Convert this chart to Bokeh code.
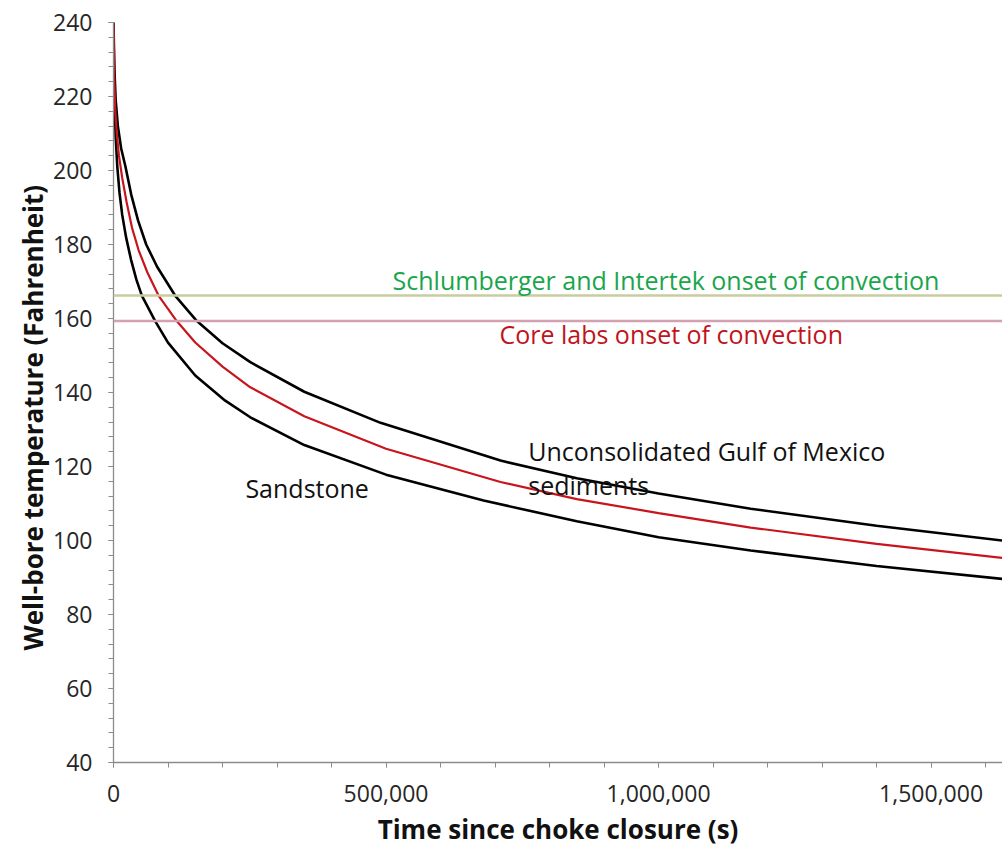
from bokeh.plotting import figure
from bokeh.models import (Range1d, SingleIntervalTicker, NumeralTickFormatter,
                          Label, Span, Title)
from bokeh.embed import file_html
from bokeh.resources import INLINE

# Time since choke closure (s) and well-bore temperature (F) for each formation
t_sandstone = [0, 800, 2000, 4000, 7000, 11000, 16000, 23000, 32000, 42000,
               52000, 76500, 100000, 150000, 205000, 251000, 350000, 500000,
               679000, 850000, 1000000, 1169000, 1400000, 1631000]
T_sandstone = [240, 228, 218, 209, 201, 194, 188, 182, 176, 170.5,
               166.2, 159.3, 153.5, 144.6, 137.8, 133.3, 125.8, 117.8,
               110.8, 105.2, 100.9, 97.3, 93.1, 89.6]

t_average = [0, 1200, 3000, 6000, 10000, 16000, 24000, 34000, 46000, 62000,
             82600, 116000, 150000, 200000, 251000, 350000, 500000, 710000,
             850000, 1000000, 1169000, 1400000, 1631000]
T_average = [240, 226, 217, 210, 204, 198, 191.5, 184.5, 178.5, 172.5,
             166.2, 159.3, 153.5, 147, 141.4, 133.6, 124.8, 115.8,
             111.2, 107.4, 103.5, 99.1, 95.3]

t_gulf = [0, 1500, 4000, 8000, 14000, 22000, 32500, 45000, 60000, 80000,
          113000, 153000, 200000, 251000, 350000, 490000, 710000, 850000,
          1000000, 1169000, 1400000, 1631000]
T_gulf = [240, 228, 219, 212, 206, 201, 193.5, 186.5, 180, 174,
          166.2, 159.3, 153.3, 148.2, 140.2, 131.8, 121.6, 116.8,
          112.7, 108.6, 104, 100]

# Onset-of-convection thresholds (F)
onset_schlumberger = 166.2
onset_corelabs = 159.3

FONT = "Open Sans"

p = figure(width=1002, height=851, output_backend="svg", toolbar_location=None,
           x_range=Range1d(0, 1631000), y_range=Range1d(40, 240),
           min_border_left=113, min_border_right=0, min_border_top=22,
           min_border_bottom=89)
p.outline_line_color = None
p.xgrid.visible = False
p.ygrid.visible = False
p.background_fill_color = "white"
p.border_fill_color = "white"

p.xaxis.ticker = SingleIntervalTicker(interval=500000, num_minor_ticks=5)
p.yaxis.ticker = SingleIntervalTicker(interval=20, num_minor_ticks=5)
p.xaxis.formatter = NumeralTickFormatter(format="0,0")

for ax in (p.xaxis, p.yaxis):
    ax.axis_line_color = "#8c8c8c"
    ax.axis_line_width = 1.3
    ax.major_tick_line_color = "#8c8c8c"
    ax.minor_tick_line_color = "#8c8c8c"
    ax.major_tick_in = 0
    ax.major_tick_out = 5
    ax.minor_tick_in = 0
    ax.minor_tick_out = 5
    ax.major_label_text_font = FONT
    ax.major_label_text_font_size = "23px"
    ax.major_label_text_color = "#262626"
    ax.axis_label_text_font = FONT
    ax.axis_label_text_font_style = "bold"
    ax.axis_label_text_font_size = "26px"
    ax.axis_label_text_color = "#111111"

p.xaxis.axis_label = "Time since choke closure (s)"
p.xaxis.major_label_standoff = 17
p.yaxis.major_label_standoff = 16
p.xaxis.axis_label_standoff = 6

# Vertical axis title, starting a fixed distance above the x axis
p.add_layout(Title(text="Well-bore temperature (Fahrenheit)", align="left",
                   offset=112, text_font=FONT, text_font_style="bold",
                   text_font_size="26px", text_color="#111111",
                   standoff=0), "left")

p.add_layout(Span(location=onset_schlumberger, dimension="width",
                  line_color="#c9cc9e", line_width=2.5))
p.add_layout(Span(location=onset_corelabs, dimension="width",
                  line_color="#d3a1b1", line_width=2.5))

p.line(t_sandstone, T_sandstone, line_color="#000000", line_width=2.6)
p.line(t_gulf, T_gulf, line_color="#000000", line_width=2.6)
p.line(t_average, T_average, line_color="#c8141c", line_width=2.2)

def note(x, y, text, color):
    p.add_layout(Label(x=x, y=y, text=text, text_color=color,
                       text_font=FONT, text_font_size="25px",
                       text_baseline="middle", text_align="left"))

note(512000, 170.5, "Schlumberger and Intertek onset of convection", "#1aa54c")
note(708000, 155.7, "Core labs onset of convection", "#c0141c")
note(761000, 124.3, "Unconsolidated Gulf of Mexico", "#111111")
note(761000, 114.9, "sediments", "#111111")
note(242000, 114.1, "Sandstone", "#111111")

open("out.html", "w").write(file_html(p, INLINE))
